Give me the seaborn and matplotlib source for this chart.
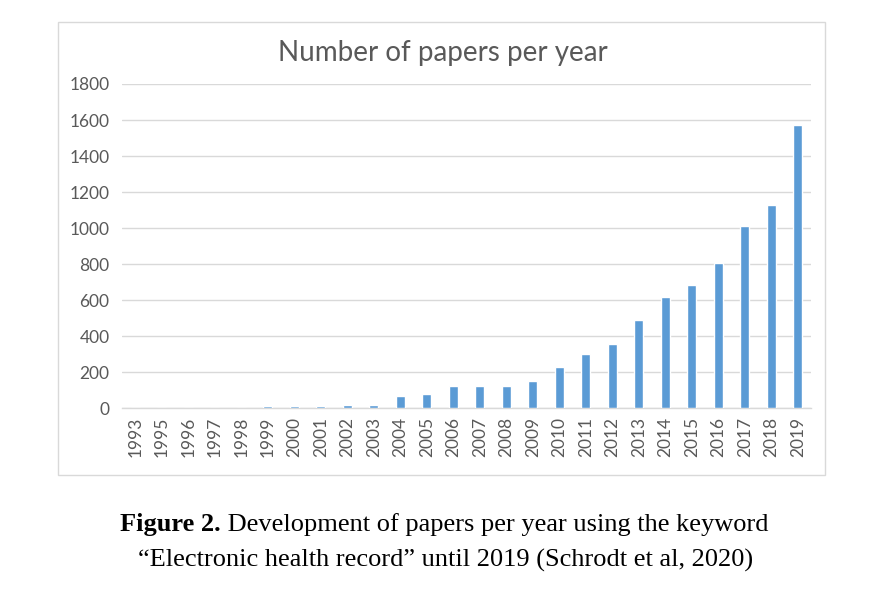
import matplotlib
matplotlib.use("Agg")
import matplotlib.pyplot as plt
import matplotlib.patches as patches
import seaborn as sns
import pandas as pd

# ==========================================
# 1. DATA
# ==========================================
years = ["1993", "1995", "1996", "1997", "1998", "1999", "2000", "2001", "2002",
         "2003", "2004", "2005", "2006", "2007", "2008", "2009", "2010", "2011",
         "2012", "2013", "2014", "2015", "2016", "2017", "2018", "2019"]
papers = [0, 1, 1, 4, 4, 12, 12, 12, 16, 16, 68, 81, 124, 124, 124, 152,
          229, 303, 355, 489, 616, 685, 805, 1014, 1126, 1572]

title = "Number of papers per year"
caption_bold = "Figure 2."
caption_rest = " Development of papers per year using the keyword"
caption_line2 = "\u201cElectronic health record\u201d until 2019 (Schrodt et al, 2020)"

df = pd.DataFrame({"Year": years, "Papers": papers})

# ==========================================
# 2. PLOTTING
# ==========================================
sns.set_theme(style="white")
plt.rcParams["font.family"] = ["Lato", "DejaVu Sans"]

fig = plt.figure(figsize=(8.73, 5.93), dpi=100)
ax = fig.add_axes([122 / 873, 1 - 408.3 / 593, (811 - 122) / 873, (408.3 - 84) / 593])

sns.barplot(data=df, x="Year", y="Papers", color="#5B9BD5", width=0.34,
            saturation=1, ax=ax, zorder=3)

ax.set_ylim(0, 1800)
ax.set_yticks(range(0, 1801, 200))
ax.set_xlim(-0.5, len(years) - 0.5)
ax.yaxis.grid(True, color="#D9D9D9", linewidth=1, zorder=0)
ax.set_axisbelow(True)
sns.despine(ax=ax, left=True, top=True, right=True)
ax.spines["bottom"].set_color("#D9D9D9")
ax.spines["bottom"].set_linewidth(1)
ax.tick_params(axis="both", length=0, colors="#595959", labelsize=12.5)
ax.tick_params(axis="y", pad=9)
ax.tick_params(axis="x", pad=6)
plt.setp(ax.get_xticklabels(), rotation=90)
ax.set_xlabel("")
ax.set_ylabel("")

# Chart title
fig.text(443 / 873, 1 - 53 / 593, title, ha="center", va="center",
         fontsize=20, color="#595959")

# Chart frame
fig.patches.append(patches.Rectangle((58 / 873, 1 - 475 / 593), (825 - 58) / 873,
                                     (475 - 22) / 593, transform=fig.transFigure,
                                     fill=False, edgecolor="#D9D9D9", linewidth=1))

# Caption below the chart (first line centred as a whole)
serif = ["Liberation Serif", "DejaVu Serif"]
t1 = fig.text(0, 1 - 525 / 593, caption_bold, ha="left", va="center",
              fontsize=19, fontweight="bold", family=serif, color="black")
t2 = fig.text(0, 1 - 525 / 593, caption_rest, ha="left", va="center",
              fontsize=19, family=serif, color="black")
fig.canvas.draw()
w1 = t1.get_window_extent().width
w2 = t2.get_window_extent().width
x0 = 444.5 - (w1 + w2) / 2
t1.set_x(x0 / 873)
t2.set_x((x0 + w1) / 873)
fig.text(445.5 / 873, 1 - 560 / 593, caption_line2, ha="center", va="center",
         fontsize=19, family=serif, color="black")

plt.savefig("out.png", dpi=100)
